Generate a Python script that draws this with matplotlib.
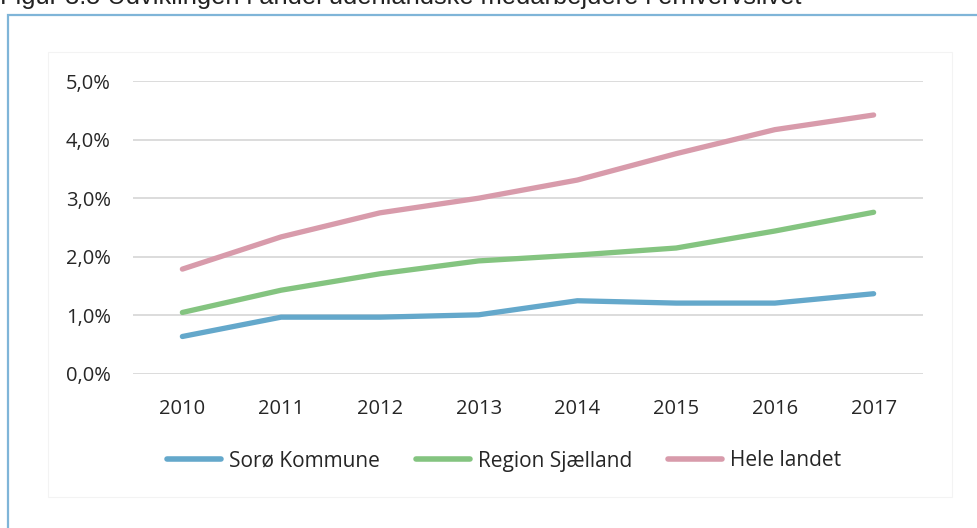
import matplotlib
matplotlib.use("Agg")
import matplotlib.pyplot as plt
from matplotlib.patches import Rectangle
from matplotlib.ticker import FuncFormatter

years = ["2010", "2011", "2012", "2013", "2014", "2015", "2016", "2017"]
soroe = [0.64, 0.97, 0.97, 1.01, 1.25, 1.21, 1.21, 1.37]
region = [1.05, 1.43, 1.71, 1.93, 2.03, 2.15, 2.44, 2.76]
hele = [1.79, 2.34, 2.75, 3.00, 3.31, 3.76, 4.17, 4.42]
series_names = ["Sorø Kommune", "Region Sjælland", "Hele landet"]
colors = ["#64a8cb", "#84c480", "#d89bab"]
title = "Figur 3.5 Udviklingen i andel udenlandske medarbejdere i erhvervslivet"

plt.rcParams['font.family'] = ['Open Sans', 'DejaVu Sans']

W, H = 977, 528
fig = plt.figure(figsize=(W / 100, H / 100), dpi=100)

# outer border (light blue), open at right and bottom
fig.add_artist(Rectangle((8 / W, -0.2), 1.5, 1 - 14.5 / H + 0.2, transform=fig.transFigure,
                         fill=False, edgecolor="#7fb5d8", linewidth=1.6, zorder=-2))
# faint inner chart area
fig.add_artist(Rectangle((48 / W, 1 - 497 / H), (952 - 48) / W, (497 - 52) / H,
                         transform=fig.transFigure, facecolor="white",
                         edgecolor="#f3f3f3", linewidth=0.8, zorder=-1))

fig.text(0.0, 1 - 4 / H, title, fontsize=18.3, family=['Liberation Sans', 'DejaVu Sans'],
         ha="left", va="baseline", color="#222222")

ax = fig.add_axes([133 / W, 1 - 374 / H, (923 - 133) / W, (374 - 81) / H])
ax.set_facecolor("none")
ax.set_zorder(1)
x = range(len(years))
for vals, name, c in zip([soroe, region, hele], series_names, colors):
    ax.plot(x, vals, color=c, linewidth=3.8, solid_capstyle="round",
            solid_joinstyle="round", label=name)

ax.set_xlim(-0.5, len(years) - 0.5)
ax.set_ylim(0, 5)
ax.set_yticks([0, 1, 2, 3, 4, 5])
ax.yaxis.set_major_formatter(FuncFormatter(lambda v, p: f"{v:.1f}".replace(".", ",") + "%"))
ax.set_xticks(list(x))
ax.set_xticklabels(years)
ax.grid(axis="y", color="#d9d9d9", linewidth=1.3)
ax.set_axisbelow(True)
for s in ax.spines.values():
    s.set_visible(False)
ax.tick_params(axis="both", length=0, labelsize=14.5, colors="#262626")
ax.tick_params(axis="y", pad=16)
ax.tick_params(axis="x", pad=18)

leg = ax.legend(loc="center", bbox_to_anchor=((504 - 133) / 790, (374 - 461) / (374 - 81)),
                ncol=3, frameon=False, fontsize=15, handlelength=2.6, handletextpad=0.36,
                columnspacing=1.75)
for t in leg.get_texts():
    t.set_color("#262626")
for h in leg.get_lines():
    h.set_linewidth(4.0)
    h.set_solid_capstyle("round")

fig.savefig("out.png", dpi=100)
